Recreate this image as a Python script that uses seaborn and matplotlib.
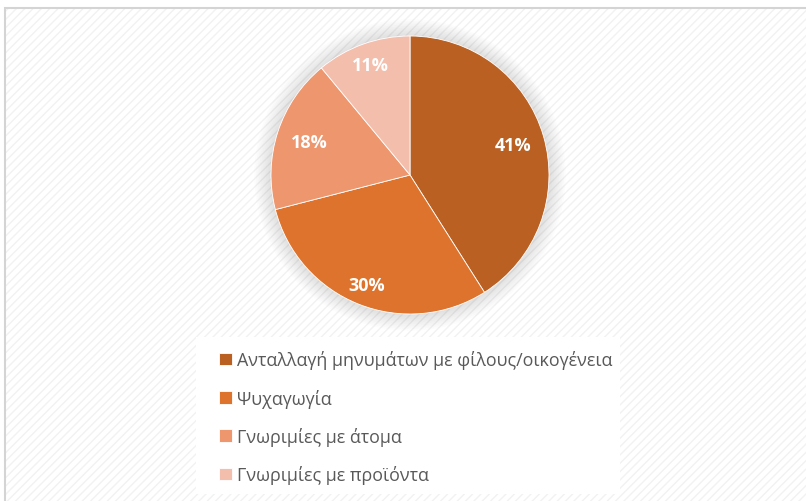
import matplotlib
matplotlib.use("Agg")
import matplotlib.pyplot as plt
from matplotlib.patches import Rectangle, Circle
import numpy as np
import seaborn as sns

categories = [
    "Ανταλλαγή μηνυμάτων με φίλους/οικογένεια",
    "Ψυχαγωγία",
    "Γνωριμίες με άτομα",
    "Γνωριμίες με προϊόντα",
]
shares = [41, 30, 18, 11]
colors = ["#BA6022", "#DD732C", "#EE966E", "#F4BEAC"]
# radial placement of each percentage label (fraction of the radius)
label_radius = [0.77, 0.85, 0.76, 0.84]

sns.set_theme(style="white")
plt.rcParams["font.family"] = ["Open Sans", "DejaVu Sans"]
plt.rcParams["hatch.linewidth"] = 1.0

W, H = 806, 502
fig = plt.figure(figsize=(W / 100, H / 100), dpi=100)
fig.patch.set_facecolor("white")

# chart area: faint diagonal texture with a thin grey border
bg = Rectangle((5 / W, 0), 1, 1 - 9 / H, transform=fig.transFigure,
               facecolor="white", edgecolor="#F2F2F2", hatch="////",
               linewidth=0, zorder=0)
fig.patches.append(bg)
border = Rectangle((5 / W, -0.01), 1.01, 1.01 - 9 / H, transform=fig.transFigure,
                   facecolor="none", edgecolor="#D4D4D4", linewidth=1.5, zorder=1)
fig.patches.append(border)

# legend panel
panel = Rectangle((196 / W, 7 / H), 424 / W, 157 / H, transform=fig.transFigure,
                  facecolor="white", edgecolor="none", zorder=1)
fig.patches.append(panel)

# pie axes
cx, cy, r = 410, 176, 139
ax = fig.add_axes([(cx - r) / W, (H - cy - r) / H, 2 * r / W, 2 * r / H])
ax.set_zorder(5)
ax.patch.set_alpha(0)

# soft glow behind the pie
for i in range(10):
    ax.add_patch(Circle((0, 0), 1.0 + 0.012 * (i + 1), facecolor="#808080",
                        edgecolor="none", alpha=0.025, zorder=0, clip_on=False))

wedges, texts, autotexts = ax.pie(
    shares, colors=colors, startangle=90, counterclock=False,
    autopct=lambda p: f"{p:.0f}%", pctdistance=0.77, radius=1.0,
    wedgeprops=dict(edgecolor="white", linewidth=0.6),
    textprops=dict(color="white", fontsize=13, fontweight="bold"),
)
for w, t, d in zip(wedges, autotexts, label_radius):
    w.set_zorder(2)
    mid = np.deg2rad((w.theta1 + w.theta2) / 2)
    t.set_position((d * np.cos(mid), d * np.sin(mid)))
    t.set_zorder(3)
ax.set_xlim(-1, 1)
ax.set_ylim(-1, 1)
ax.axis("off")

leg = fig.legend(
    wedges, categories, loc="upper left",
    bbox_to_anchor=(212 / W, 1 - 344 / H), frameon=False,
    fontsize=12.9, labelcolor="#595959", handlelength=0.72, handleheight=0.72,
    handletextpad=0.3, labelspacing=1.08, borderaxespad=0,
)
leg.set_zorder(6)

fig.savefig("out.png", dpi=100)
